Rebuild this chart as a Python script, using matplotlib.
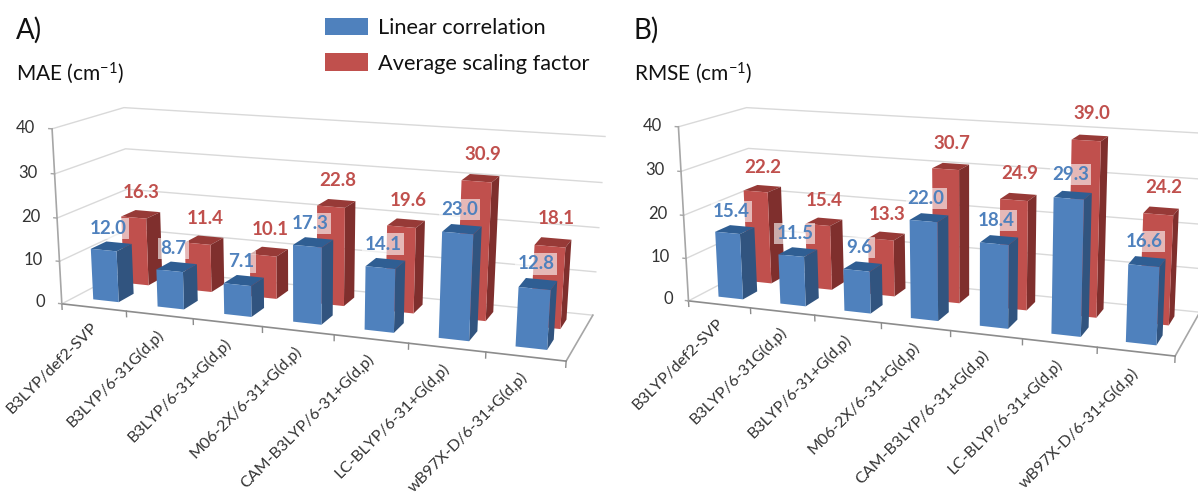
import numpy as np
import matplotlib
matplotlib.use("Agg")
import matplotlib.pyplot as plt
from matplotlib.patches import Patch

plt.rcParams['font.family'] = ['Lato', 'DejaVu Sans']
plt.rcParams['mathtext.default'] = 'regular'

methods = ["B3LYP/def2-SVP", "B3LYP/6-31G(d,p)", "B3LYP/6-31+G(d,p)", "M06-2X/6-31+G(d,p)",
           "CAM-B3LYP/6-31+G(d,p)", "LC-BLYP/6-31+G(d,p)", "wB97X-D/6-31+G(d,p)"]
mae_linear = [12.0, 8.7, 7.1, 17.3, 14.1, 23.0, 12.8]
mae_scaling = [16.3, 11.4, 10.1, 22.8, 19.6, 30.9, 18.1]
rmse_linear = [15.4, 11.5, 9.6, 22.0, 18.4, 29.3, 16.6]
rmse_scaling = [22.2, 15.4, 13.3, 30.7, 24.9, 39.0, 24.2]
z_ticks = [0, 10, 20, 30, 40]

W, H = 1198, 493
HIDE = '#00000000'
BLUE = [HIDE, '#2F5E93', '#4F81BD', HIDE, HIDE, '#31547F']
RED = [HIDE, '#973A37', '#C0504D', HIDE, HIDE, '#7F2F2D']
BLUE_TXT, RED_TXT = '#4F81BD', '#C0504D'
BAR_W, BAR_D = 0.40, 0.22
Y_BLUE, Y_RED = 0.17, 0.62


def fit_camera(anchors):
    """Projective camera from (x, y, z) frame corners to figure pixels."""
    A, b = [], []
    for (x, y, z), (px, py) in anchors:
        v = [x, y, z, 1]
        A.append(v + [0, 0, 0, 0] + [-px * x, -px * y, -px * z])
        b.append(px)
        A.append([0, 0, 0, 0] + v + [-py * x, -py * y, -py * z])
        b.append(py)
    s = np.linalg.lstsq(np.array(A, float), np.array(b, float), rcond=None)[0]
    return np.vstack([s[:4], s[4:8], [0, 1, 0, 0], np.r_[s[8:], 1]])


def panel(fig, anchors, linear, scaling):
    ax = fig.add_axes([0, (1 - W / H) / 2, 1, W / H], projection='3d',
                      computed_zorder=False, proj_type='ortho')
    ax.set_axis_off()
    ax.patch.set_visible(False)
    cam = fit_camera(anchors)

    def get_proj():
        flip = np.array([[1, 0, 0, 0], [0, -1, 0, H], [0, 0, 1, 0], [0, 0, 0, 1]], float)
        a = ax.transData.inverted().get_matrix()
        to_data = np.array([[a[0, 0], a[0, 1], 0, a[0, 2]],
                            [a[1, 0], a[1, 1], 0, a[1, 2]],
                            [0, 0, 1, 0], [0, 0, 0, 1]])
        return to_data @ flip @ cam
    ax.get_proj = get_proj

    def label(x, y, z, s, **kw):
        q = cam @ np.array([x, y, z, 1.0])
        fig.text(q[0] / q[3] / W, 1 - q[1] / q[3] / H, s, **kw)

    n = len(methods)
    for z in z_ticks:
        ax.plot([0, 0, n], [0, 1, 1], [z, z, z], color='#D9D9D9', lw=1.0, zorder=1)
    ax.plot([0, 0], [0, 0], [0, 40], color='#A6A6A6', lw=1.2, zorder=2)
    ax.plot([n, n], [0, 1], [0, 0], color='#A6A6A6', lw=1.2, zorder=2)
    ax.plot([0, n], [0, 0], [0, 0], color='#8C8C8C', lw=1.2, zorder=2)
    for i in range(n + 1):
        ax.plot([i, i], [0, 0], [0, -1.3], color='#8C8C8C', lw=1.0, zorder=2)
    for z in z_ticks:
        ax.plot([0, -0.05], [0, 0], [z, z], color='#A6A6A6', lw=1.0, zorder=2)
        label(-0.26, 0, z, str(z), ha='right', va='center', fontsize=12, color='#333333')

    for vals, y0, cols, zo in ((scaling, Y_RED, RED, 3), (linear, Y_BLUE, BLUE, 4)):
        for i, v in enumerate(vals):
            b = ax.bar3d(i + 0.5 - BAR_W / 2, y0, 0, BAR_W, BAR_D, v, color=cols, shade=False, zorder=zo)
            b.set_edgecolor('none')

    for i, (a, b) in enumerate(zip(linear, scaling)):
        label(i + 0.52, Y_RED + BAR_D / 2, b + 5.2, f"{b:.1f}", ha='center', va='center',
              fontsize=13.5, fontweight='bold', color=RED_TXT)
        label(i + 0.46, Y_BLUE + BAR_D / 2, a + 4.2, f"{a:.1f}", ha='center', va='center',
              fontsize=13.5, fontweight='bold', color=BLUE_TXT,
              bbox=dict(facecolor='white', edgecolor='none', alpha=0.6, pad=1.5))
        label(i + 0.44, 0, -3.0, methods[i], rotation=45, rotation_mode='anchor', ha='right',
              va='top', fontsize=11.5, color='#333333')
    return ax


fig = plt.figure(figsize=(W / 100, H / 100), dpi=100, facecolor='white')

panel(fig, [((0, 0, 0), (62, 302)), ((7, 0, 0), (566, 363)), ((7, 1, 0), (593, 313)), ((0, 1, 0), (130, 270)),
            ((0, 0, 40), (52, 129)), ((0, 1, 40), (124, 107)), ((7, 1, 40), (605, 137))],
      mae_linear, mae_scaling)
panel(fig, [((0, 0, 0), (689, 299)), ((7, 0, 0), (1175, 358)), ((7, 1, 0), (1200, 310)), ((0, 1, 0), (753, 269)),
            ((0, 0, 40), (678, 127)), ((0, 1, 40), (747, 107)), ((7, 1, 40), (1208, 134))],
      rmse_linear, rmse_scaling)

fig.text(16 / W, 1 - 30 / H, "A)", fontsize=20, va='center', color='#111111')
fig.text(633 / W, 1 - 30 / H, "B)", fontsize=20, va='center', color='#111111')
fig.text(16 / W, 1 - 73 / H, "MAE (cm$^{-1}$)", fontsize=15, va='center', color='#111111')
fig.text(634 / W, 1 - 73 / H, "RMSE (cm$^{-1}$)", fontsize=15, va='center', color='#111111')

fig.legend(handles=[Patch(facecolor='#4F81BD', label='Linear correlation'),
                    Patch(facecolor='#C0504D', label='Average scaling factor')],
           loc='upper left', bbox_to_anchor=(305 / W, 1 + 2 / H), frameon=False, fontsize=15.7,
           handlelength=2.0, handleheight=0.83, labelspacing=0.72, handletextpad=0.45,
           borderpad=0.4, labelcolor='#111111')

fig.savefig('out.png', dpi=100)
